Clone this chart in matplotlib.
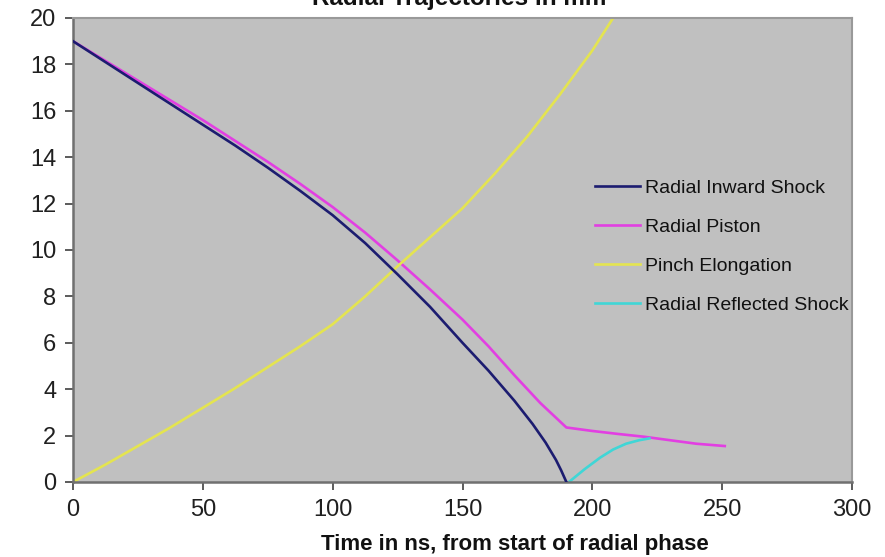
import matplotlib
matplotlib.use("Agg")
import matplotlib.pyplot as plt

plt.rcParams['font.family'] = ['Liberation Sans', 'DejaVu Sans']

# Data (time in ns, radius / length in mm)
shock_t = [0, 12.5, 25, 37.5, 50, 62.5, 75, 87.5, 100, 112.5, 125, 137.5, 150,
           160, 170, 177, 182, 186, 188, 190]
shock_r = [19.0, 18.1, 17.2, 16.3, 15.4, 14.5, 13.55, 12.55, 11.5, 10.3, 8.95,
           7.55, 6.0, 4.8, 3.5, 2.5, 1.7, 0.95, 0.5, 0.0]

piston_t = [0, 12.5, 25, 37.5, 50, 62.5, 75, 87.5, 100, 112.5, 125, 137.5, 150,
            160, 170, 180, 190, 200, 210, 220, 230, 240, 251]
piston_r = [19.0, 18.15, 17.3, 16.45, 15.6, 14.7, 13.8, 12.85, 11.85, 10.75, 9.55,
            8.3, 7.0, 5.85, 4.6, 3.4, 2.35, 2.2, 2.07, 1.95, 1.8, 1.65, 1.55]

elong_t = [0, 12.5, 25, 37.5, 50, 62.5, 75, 87.5, 100, 112.5, 125, 137.5, 150,
           162.5, 175, 187.5, 200, 210]
elong_z = [0.0, 0.75, 1.55, 2.35, 3.2, 4.05, 4.95, 5.85, 6.8, 8.0, 9.3, 10.55,
           11.8, 13.3, 14.9, 16.7, 18.6, 20.35]

refl_t = [191, 197, 203, 208, 213, 218, 222]
refl_r = [0.0, 0.55, 1.05, 1.4, 1.65, 1.8, 1.88]

labels = ["Radial Inward Shock", "Radial Piston", "Pinch Elongation", "Radial Reflected Shock"]
title = "Radial Trajectories in mm"
xlabel = "Time in ns, from start of radial phase"
xticks = [0, 50, 100, 150, 200, 250, 300]
yticks = [0, 2, 4, 6, 8, 10, 12, 14, 16, 18, 20]

fig = plt.figure(figsize=(8.85, 5.57), dpi=100)
ax = fig.add_axes([73/885, 75/557, 779/885, 464/557])
ax.set_facecolor('#C0C0C0')

lw = 1.9
ax.plot(shock_t, shock_r, color='#1c1c70', lw=lw, label=labels[0], zorder=3,
        solid_joinstyle='round')
ax.plot(piston_t, piston_r, color='#e23fe2', lw=lw, label=labels[1], zorder=2,
        solid_joinstyle='round')
ax.plot(elong_t, elong_z, color='#e4e450', lw=lw, label=labels[2], zorder=2,
        solid_joinstyle='round')
ax.plot(refl_t, refl_r, color='#40d6d6', lw=lw, label=labels[3], zorder=2,
        solid_joinstyle='round')

ax.set_xlim(0, 300)
ax.set_ylim(0, 20)
ax.set_xticks(xticks)
ax.set_yticks(yticks)
ax.tick_params(axis='both', labelsize=17, direction='out', length=6, width=1.2,
               colors='#404040', labelcolor='#202020', pad=6)

for s in ['left', 'bottom']:
    ax.spines[s].set_color('#707070')
    ax.spines[s].set_linewidth(1.8)
for s in ['top', 'right']:
    ax.spines[s].set_color('#999999')
    ax.spines[s].set_linewidth(1.5)

ax.set_xlabel(xlabel, fontsize=16, fontweight='bold', labelpad=10, color='#111111')
ax.xaxis.set_label_coords((515 - 73) / 779, -0.113)
ax.xaxis.label.set_verticalalignment('top')

fig.text(459/885, 1 - 5/557, title, ha='center', va='baseline', fontsize=17.5,
         fontweight='bold', color='#111111')

leg = ax.legend(loc='upper left', bbox_to_anchor=(0.670, 0.652), frameon=False,
                fontsize=14, handlelength=2.3, handletextpad=0.25,
                labelspacing=1.1, borderpad=0, borderaxespad=0)
for t in leg.get_texts():
    t.set_color('#111111')

fig.savefig('out.png', dpi=100, facecolor='white')
